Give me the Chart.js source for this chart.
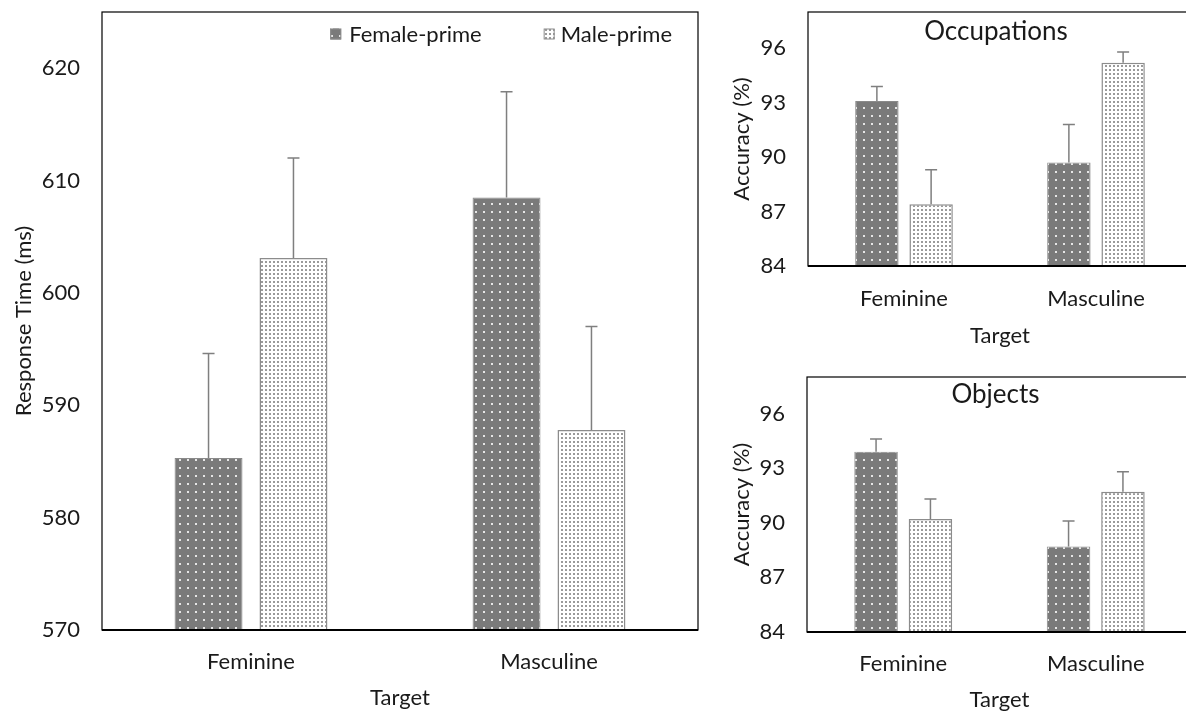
<!DOCTYPE html>
<html><head><meta charset="utf-8">
<script src="https://cdn.jsdelivr.net/npm/chart.js@4.4.1/dist/chart.umd.min.js"></script>
<style>
html,body{margin:0;padding:0;background:#fff;overflow:hidden;width:1186px;height:713px;position:relative;}
canvas{position:absolute;}
#c1{left:0;top:0;}
#c2{left:700px;top:0;}
#c3{left:700px;top:360px;}
</style></head><body>
<canvas id="c1" width="710" height="713"></canvas>
<canvas id="c2" width="500" height="355"></canvas>
<canvas id="c3" width="500" height="353"></canvas>
<script>
// ---- data ----
const categories = ['Feminine', 'Masculine'];
const seriesNames = ['Female-prime', 'Male-prime'];
const axisTitleX = 'Target';
const rtTitleY = 'Response Time (ms)';
const accTitleY = 'Accuracy (%)';
const panelTitles = ['Occupations', 'Objects'];

const rtFemale = [585.3, 608.5];
const rtMale = [603.1, 587.8];
const rtFemaleErr = [9.3, 9.4];
const rtMaleErr = [8.9, 9.2];

const occFemale = [93.1, 89.7];
const occMale = [87.4, 95.2];
const occFemaleErr = [0.8, 2.1];
const occMaleErr = [1.9, 0.6];

const objFemale = [93.9, 88.7];
const objMale = [90.2, 91.7];
const objFemaleErr = [0.7, 1.4];
const objMaleErr = [1.1, 1.1];

const rtTicks = [570, 580, 590, 600, 610, 620];
const rtMax = 625;
const accTicks = [84, 87, 90, 93, 96];
const accMax = 98;

// ---- styles ----
const FONT = 'Lato';
const TXT = '#1a1a1a';
function darkPattern() {
  const c = document.createElement('canvas'); c.width = 8; c.height = 8;
  const x = c.getContext('2d');
  x.fillStyle = '#7a7a7a'; x.fillRect(0, 0, 8, 8);
  x.fillStyle = '#e6e6e6'; x.fillRect(3, 3, 2, 2);
  return x.createPattern(c, 'repeat');
}
function lightPattern() {
  const c = document.createElement('canvas'); c.width = 4; c.height = 4;
  const x = c.getContext('2d');
  x.fillStyle = '#ffffff'; x.fillRect(0, 0, 4, 4);
  x.fillStyle = '#9a9a9a'; x.fillRect(1, 1, 2, 2);
  return x.createPattern(c, 'repeat');
}

const errorBars = {
  id: 'errorBars',
  afterDatasetsDraw(chart) {
    const ctx = chart.ctx, ys = chart.scales.y;
    chart.data.datasets.forEach((ds, i) => {
      const meta = chart.getDatasetMeta(i);
      meta.data.forEach((bar, j) => {
        const top = ys.getPixelForValue(ds.data[j] + ds.errors[j]);
        ctx.save();
        ctx.strokeStyle = '#7f7f7f'; ctx.lineWidth = 1.5;
        ctx.beginPath();
        ctx.moveTo(bar.x, bar.y); ctx.lineTo(bar.x, top);
        ctx.moveTo(bar.x - 6, top); ctx.lineTo(bar.x + 6, top);
        ctx.stroke(); ctx.restore();
      });
    });
  }
};
const frame = {
  id: 'frame',
  afterDatasetsDraw(chart) {
    const {ctx, chartArea: a} = chart;
    ctx.save();
    ctx.strokeStyle = '#000'; ctx.lineWidth = 1.2;
    ctx.strokeRect(a.left, a.top, a.right - a.left, a.bottom - a.top);
    ctx.lineWidth = 2;
    ctx.beginPath(); ctx.moveTo(a.left, a.bottom); ctx.lineTo(a.right, a.bottom); ctx.stroke();
    ctx.restore();
  }
};
const panelTitle = {
  id: 'panelTitle',
  afterDraw(chart, args, opts) {
    if (!opts.text) return;
    const {ctx, chartArea: a} = chart;
    ctx.save();
    ctx.font = `26px ${FONT}`; ctx.fillStyle = TXT;
    ctx.textAlign = 'center'; ctx.textBaseline = 'middle';
    ctx.fillText(opts.text, (a.left + a.right) / 2 - 4, a.top + opts.dy);
    ctx.restore();
  }
};
const innerLegend = {
  id: 'innerLegend',
  afterDraw(chart, args, opts) {
    if (!opts.show) return;
    const {ctx, chartArea: a} = chart;
    const ds = chart.data.datasets;
    ctx.save();
    ctx.font = `22px ${FONT}`; ctx.textBaseline = 'middle';
    const y = a.top + 22;
    const w1 = ctx.measureText(ds[0].label).width;
    const w2 = ctx.measureText(ds[1].label).width;
    const t2 = a.right - 26 - w2;
    const b2 = t2 - 6 - 11;
    const t1 = b2 - 62 - w1;
    const b1 = t1 - 8 - 11;
    [[b1, t1, ds[0]], [b2, t2, ds[1]]].forEach(([bx, tx, d]) => {
      ctx.fillStyle = d.backgroundColor;
      ctx.fillRect(bx, y - 5.5, 11, 11);
      ctx.strokeStyle = '#8c8c8c'; ctx.lineWidth = 1;
      ctx.strokeRect(bx + 0.5, y - 5, 10, 10);
      ctx.fillStyle = TXT;
      ctx.fillText(d.label, tx, y + 1);
    });
    ctx.restore();
  }
};

function makeChart(id, cfg) {
  const dark = darkPattern(), light = lightPattern();
  return new Chart(document.getElementById(id), {
    type: 'bar',
    data: {
      labels: categories,
      datasets: [
        { label: seriesNames[0], data: cfg.f, errors: cfg.fe, backgroundColor: dark,
          borderColor: '#8a8a8a', borderWidth: 1, borderSkipped: false },
        { label: seriesNames[1], data: cfg.m, errors: cfg.me, backgroundColor: light,
          borderColor: '#8c8c8c', borderWidth: 1.5, borderSkipped: false }
      ]
    },
    options: {
      responsive: false, animation: false, devicePixelRatio: 1,
      layout: { padding: cfg.pad },
      categoryPercentage: cfg.cp, barPercentage: 0.8,
      plugins: {
        legend: { display: false }, tooltip: { enabled: false },
        panelTitle: { text: cfg.title, dy: cfg.titleDy },
        innerLegend: { show: cfg.legend }
      },
      scales: {
        x: {
          grid: { display: false, drawTicks: false }, border: { display: false },
          ticks: { color: TXT, font: { family: FONT, size: 22 }, padding: cfg.xTickPad },
          title: { display: true, text: axisTitleX, color: TXT, font: { family: FONT, size: 22 },
                   padding: { top: 0, bottom: cfg.xTitlePad } },
          afterFit(s) { s.height = cfg.xH; s.paddingLeft = 0; s.paddingRight = 0; }
        },
        y: {
          min: cfg.ticks[0], max: cfg.max,
          afterBuildTicks(s) { s.ticks = cfg.ticks.map(v => ({ value: v })); },
          grid: { display: false, drawTicks: false }, border: { display: false },
          ticks: { color: TXT, font: { family: FONT, size: 22 }, padding: 22 },
          title: { display: true, text: cfg.yTitle, color: TXT, font: { family: FONT, size: 22 },
                   padding: { top: cfg.yTitlePad, bottom: 0 } },
          afterFit(s) { s.width = cfg.yW; s.paddingTop = 0; s.paddingBottom = 0; }
        }
      }
    },
    plugins: [errorBars, frame, panelTitle, innerLegend]
  });
}

makeChart('c1', { f: rtFemale, m: rtMale, fe: rtFemaleErr, me: rtMaleErr,
  ticks: rtTicks, max: rtMax, yTitle: rtTitleY, legend: true, title: '',
  pad: { top: 12, right: 12, left: 0, bottom: 0 }, yW: 102, xH: 83, cp: 0.57,
  xTickPad: 19, xTitlePad: 2, yTitlePad: 11 });
makeChart('c2', { f: occFemale, m: occMale, fe: occFemaleErr, me: occMaleErr,
  ticks: accTicks, max: accMax, yTitle: accTitleY, legend: false, title: panelTitles[0], titleDy: 20,
  pad: { top: 12, right: 8, left: 0, bottom: 0 }, yW: 108, xH: 89, cp: 0.565,
  xTickPad: 20, xTitlePad: 6, yTitlePad: 29 });
makeChart('c3', { f: objFemale, m: objMale, fe: objFemaleErr, me: objMaleErr,
  ticks: accTicks, max: accMax, yTitle: accTitleY, legend: false, title: panelTitles[1], titleDy: 18,
  pad: { top: 17, right: 8, left: 0, bottom: 0 }, yW: 107, xH: 81, cp: 0.565,
  xTickPad: 19, xTitlePad: 0, yTitlePad: 29 });
</script>
</body></html>
